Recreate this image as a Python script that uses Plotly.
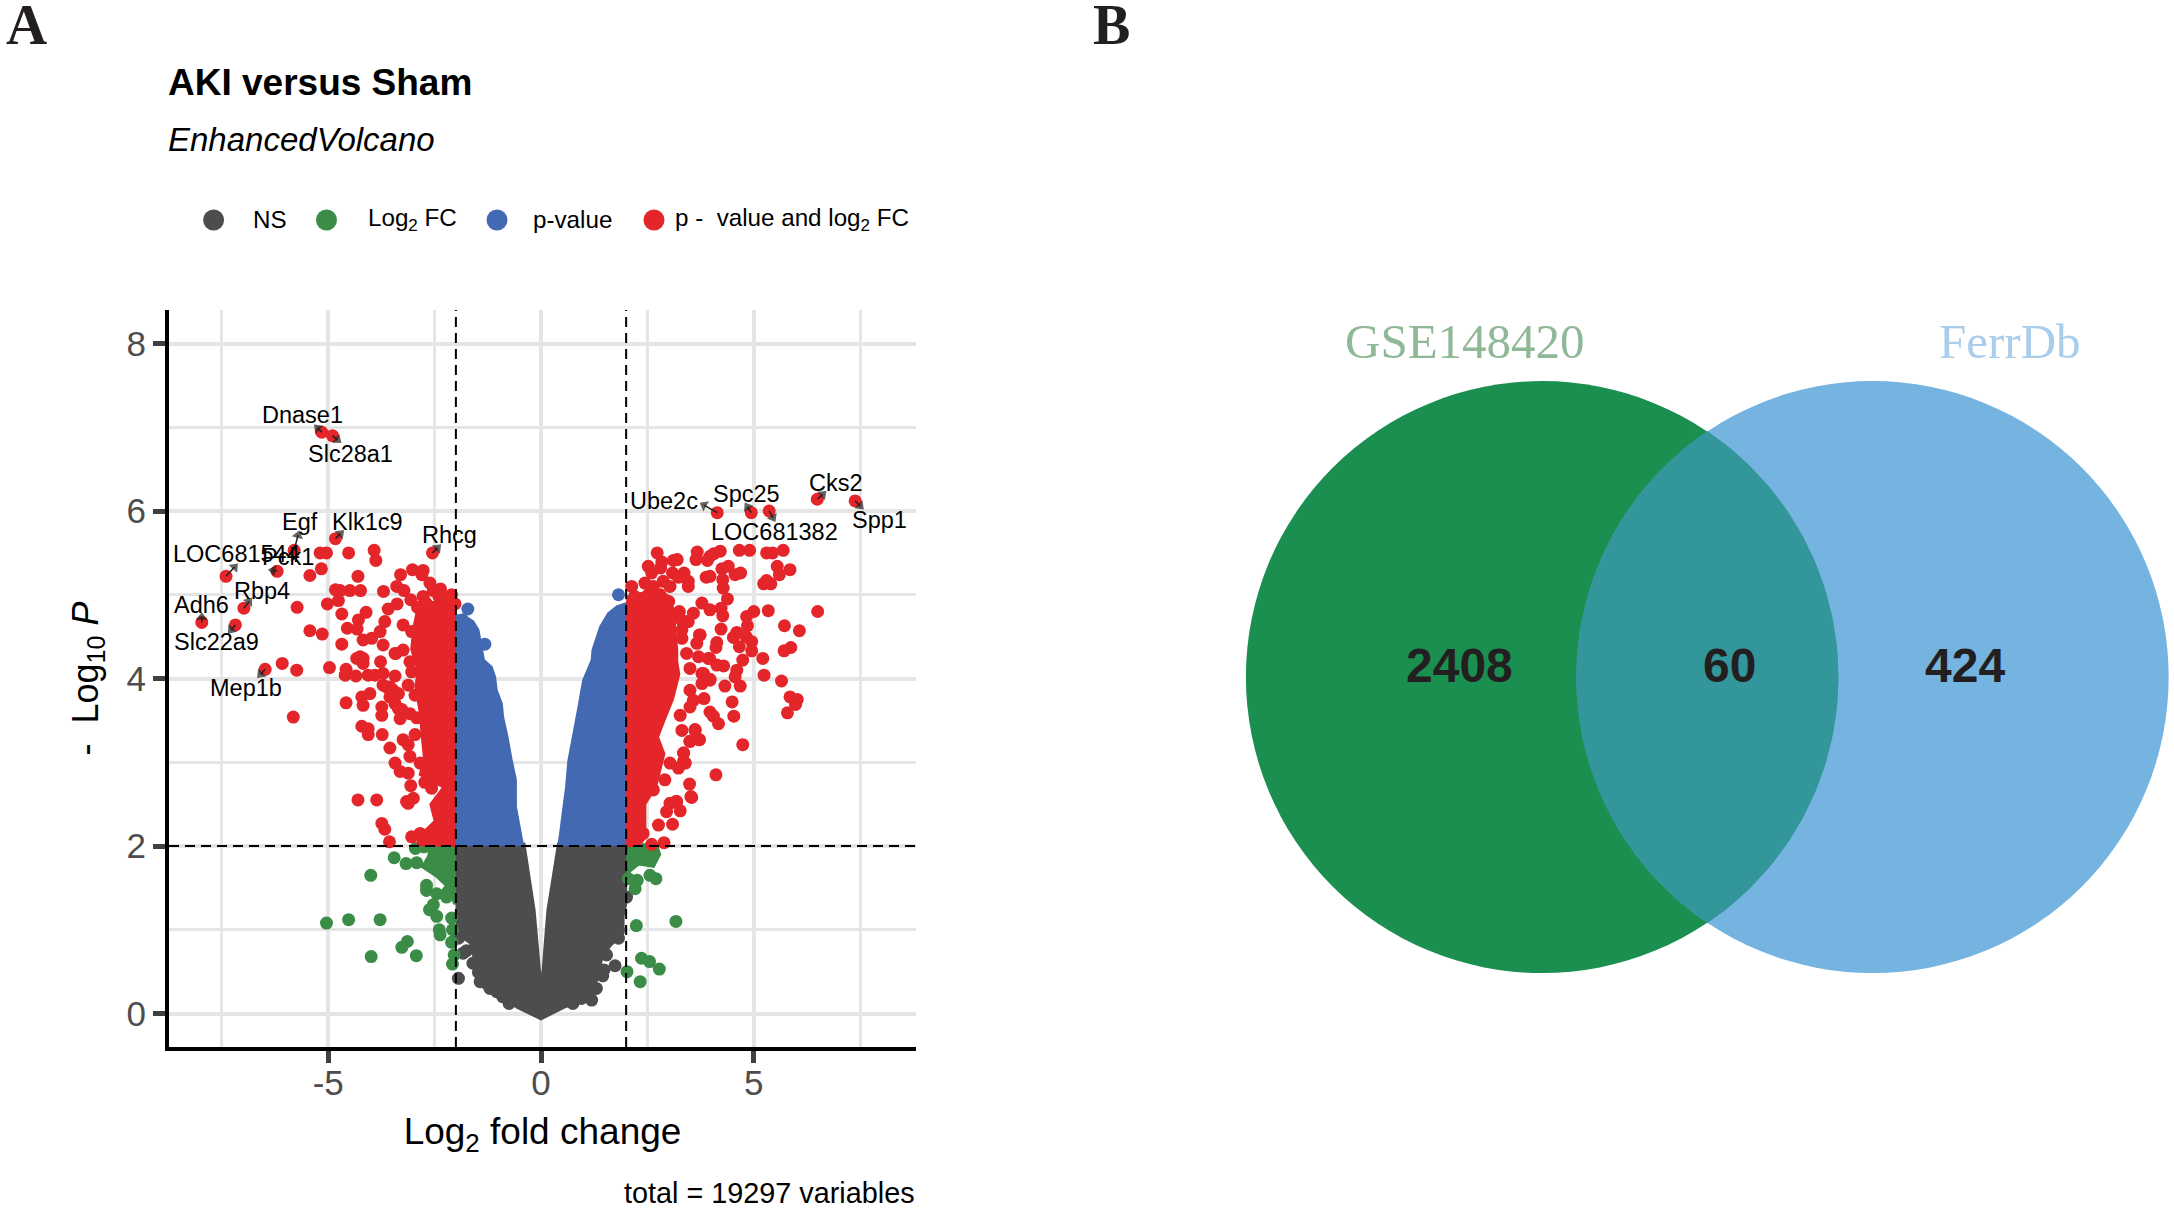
import numpy as np
import plotly.graph_objects as go

W, H = 2174, 1209

# gene labels on the volcano
gene_names = ["Dnase1", "Slc28a1", "Egf", "Klk1c9", "Rhcg", "LOC681544", "Pck1", "Rbp4", "Adh6", "Slc22a9", "Mep1b",
              "Ube2c", "Spc25", "LOC681382", "Cks2", "Spp1"]
gene_x = [-5.15, -4.90, -5.80, -4.83, -2.55, -7.40, -6.20, -6.98, -7.97, -7.18, -6.48,
          4.14, 4.94, 5.36, 6.49, 7.38]
gene_y = [6.94, 6.90, 5.53, 5.67, 5.50, 5.22, 5.28, 4.84, 4.67, 4.64, 4.11,
          5.98, 5.98, 6.00, 6.14, 6.12]
label_x = [-5.61, -4.47, -5.66, -4.07, -2.14, -7.15, -5.95, -6.56, -7.97, -7.62, -6.92,
           2.89, 4.83, 5.48, 6.93, 7.95]
label_y = [7.15, 6.68, 5.87, 5.87, 5.71, 5.49, 5.45, 5.05, 4.88, 4.43, 3.89,
           6.12, 6.20, 5.75, 6.34, 5.89]
# where each connector's head sits, pulled back a little from its tip
tip_x = [-5.25, -4.78, -5.71, -4.71, -2.43, -7.20, -6.30, -6.86, -7.97, -7.28, -6.59,
         3.83, 4.85, 5.45, 6.62, 7.50]
tip_y = [6.99, 6.85, 5.71, 5.73, 5.56, 5.33, 5.29, 4.92, 4.73, 4.58, 4.05,
         6.07, 6.05, 5.92, 6.20, 6.06]

# red points, left side
red_left_x = [-6.08, -5.74, -4.97, -5.73, -5.43, -5.14, -4.68, -5.82, -5.43, -5.16, -5.19, -5.04, -4.52, -3.92, -3.88,
              -4.30, -4.83, -4.72, -4.49, -4.24, -5.02, -4.76, -4.68, -4.11, -4.29, -4.55, -4.32, -3.70, -3.30, -3.39,
              -3.22, -3.02, -2.77, -2.80, -2.61, -2.36, -2.53, -3.06, -2.77, -3.38, -3.59, -3.67, -3.78, -4.18, -3.98,
              -3.71, -3.41, -4.25, -4.18, -3.77, -4.60, -4.35, -4.06, -3.90, -3.71, -3.43, -3.55, -3.71, -4.58, -4.21,
              -4.02, -4.18, -3.74, -3.35, -3.63, -3.47, -3.55, -3.35, -3.74, -3.43, -3.27, -3.31, -4.33, -4.18, -4.58,
              -4.21, -4.06, -4.06, -3.73, -3.24, -3.12, -3.55, -3.08, -3.43, -3.31, -3.12, -3.06, -2.73, -2.57, -4.30,
              -3.86, -3.12, -3.00, -3.74, -3.67, -3.56, -3.04, -2.84,
              -3.24, -3.04, -3.43, -3.24, -3.08, -3.04, -3.12, -2.96, -3.08, -2.92, -2.96, -2.84, -3.16,
              -2.02, -2.20, -2.40, -2.70, -2.90, -2.10]
red_left_y = [4.18, 4.10, 4.13, 4.85, 4.57, 4.53, 4.41, 3.54, 5.23, 5.31, 5.50, 5.50, 5.50, 5.53, 5.41,
              5.22, 5.06, 5.05, 5.05, 5.05, 4.89, 4.93, 4.77, 4.79, 4.70, 4.60, 4.59, 5.04, 5.24, 5.10,
              5.05, 5.30, 5.29, 5.24, 5.14, 5.07, 5.05, 4.94, 4.98, 4.89, 4.83, 4.68, 4.56, 4.46, 4.48,
              4.40, 4.30, 4.26, 4.24, 4.20, 4.04, 4.03, 4.04, 4.04, 4.06, 4.03, 3.90, 3.92, 3.71, 3.78,
              3.82, 3.68, 3.56, 3.64, 3.90, 3.86, 3.78, 3.82, 3.66, 3.70, 3.63, 3.52, 4.24, 4.18, 4.11,
              3.43, 3.40, 3.33, 3.33, 3.27, 3.21, 3.17, 3.07, 2.99, 2.89, 2.87, 2.72, 2.76, 2.69, 2.55,
              2.55, 2.51, 2.57, 2.27, 2.20, 2.05, 2.11, 2.15,
              4.64, 4.56, 4.30, 4.34, 4.20, 4.08, 3.92, 3.80, 3.58, 3.53, 3.33, 2.99, 2.53,
              4.89, 4.95, 4.98, 4.90, 4.85, 5.00]

# red points, right side
red_right_x = [2.73, 2.84, 3.11, 3.20, 3.67, 3.64, 3.97, 3.91, 4.06, 4.21, 4.66, 4.90, 5.30, 5.44, 5.69,
               2.52, 2.60, 2.81, 3.09, 3.36, 3.23, 3.88, 3.97, 4.25, 4.40, 4.27, 4.56, 4.69, 5.55, 5.85,
               5.60, 5.23, 5.40, 5.30, 2.13, 2.44, 2.64, 2.87, 3.03, 3.46, 3.46, 4.28, 4.38, 2.40, 2.91,
               3.78, 3.97, 4.23, 4.27, 5.00, 4.83, 5.34, 6.50, 5.72, 6.07, 4.23, 3.72, 4.85, 4.60, 4.52,
               4.82, 4.95, 4.66, 4.95, 4.13, 4.11, 5.87, 5.71, 4.74, 5.21, 4.60, 4.56, 5.24, 5.65, 4.29,
               3.96, 4.32, 4.68, 5.85, 6.02, 5.98, 5.79, 4.49, 4.53, 4.17, 3.83, 3.97, 4.74, 3.62, 3.50,
               3.72, 3.97, 3.78, 4.11, 3.35, 3.35, 3.49, 3.54, 3.19, 3.03, 3.52, 3.17, 2.95, 3.27, 2.76,
               3.09, 2.89, 2.60,
               3.58, 3.46, 3.74, 3.66, 3.31, 3.31, 3.11, 3.42, 3.70, 3.50, 3.82, 3.97, 3.78, 3.50, 3.58,
               3.50, 3.27, 3.31, 3.50, 3.62, 3.72, 3.35, 3.39, 3.23, 3.03, 2.91, 2.64, 3.93, 4.13, 4.05, 2.40,
               2.20, 2.55, 2.80, 3.00, 3.25, 3.30]
red_right_y = [5.50, 5.39, 5.41, 5.42, 5.51, 5.42, 5.46, 5.41, 5.49, 5.52, 5.53, 5.53, 5.50, 5.50, 5.53,
               5.34, 5.26, 5.32, 5.26, 5.26, 5.21, 5.21, 5.22, 5.31, 5.34, 5.18, 5.24, 5.26, 5.34, 5.30,
               5.24, 5.13, 5.13, 5.17, 5.10, 5.14, 5.10, 5.16, 5.10, 5.10, 5.16, 5.08, 4.95, 4.96, 4.94,
               4.90, 4.82, 4.84, 4.75, 4.80, 4.74, 4.81, 4.80, 4.63, 4.57, 4.59, 4.52, 4.63, 4.55, 4.49,
               4.50, 4.44, 4.38, 4.33, 4.43, 4.37, 4.37, 4.33, 4.22, 4.24, 4.10, 4.02, 4.04, 3.97, 4.15,
               4.24, 3.91, 3.91, 3.78, 3.75, 3.69, 3.59, 3.72, 3.55, 3.46, 3.76, 3.60, 3.21, 3.39, 3.25,
               3.27, 3.98, 4.06, 2.85, 3.11, 3.01, 2.74, 2.58, 2.53, 2.51, 2.59, 2.53, 2.41, 2.42, 2.25,
               2.26, 2.04, 2.02,
               4.78, 4.68, 4.52, 4.42, 4.48, 4.58, 4.74, 4.30, 4.26, 4.12, 4.06, 3.99, 3.94, 3.86, 3.74,
               3.66, 3.56, 3.38, 3.25, 3.38, 3.27, 3.11, 2.99, 2.93, 2.99, 2.79, 2.67, 4.24, 4.16, 3.55, 2.15,
               4.98, 5.02, 5.00, 4.92, 4.80, 4.70]

# outlines of the areas where the red dots merge into a solid mass
red_mass_left_x = [-2.00, -2.50, -2.90, -3.00, -3.05, -2.90, -2.95, -2.85, -2.80, -2.75, -2.85, -2.30, -2.60, -2.50,
                   -2.90, -2.90, -2.00]
red_mass_left_y = [4.95, 4.92, 4.85, 4.60, 4.35, 4.10, 3.90, 3.60, 3.30, 3.05, 2.85, 2.70, 2.50, 2.30,
                   2.10, 2.01, 2.00]
red_mass_right_x = [2.00, 2.30, 2.70, 3.00, 3.15, 3.15, 3.20, 3.20, 3.25, 3.10, 2.90, 2.75, 2.90, 2.80, 2.70, 2.45,
                    2.45, 2.45, 2.30, 2.00]
red_mass_right_y = [4.98, 5.00, 5.00, 4.95, 4.80, 4.60, 4.35, 4.20, 4.05, 3.75, 3.50, 3.30, 3.10, 2.90, 2.70, 2.50,
                    2.25, 2.10, 2.00, 2.00]

# blue wedges (p-value only)
blue_mass_left_x = [-2.00, -2.00, -1.83, -1.59, -1.47, -1.34, -1.16, -1.08, -1.04, -0.92, -0.89, -0.79, -0.69, -0.59,
                    -0.59, -0.49, -0.42]
blue_mass_left_y = [2.00, 4.75, 4.76, 4.68, 4.58, 4.22, 4.14, 4.02, 3.86, 3.70, 3.54, 3.31, 3.03, 2.79,
                    2.47, 2.19, 2.00]
blue_mass_right_x = [2.00, 2.00, 1.78, 1.58, 1.39, 1.31, 1.21, 1.19, 0.99, 0.88, 0.80, 0.72, 0.64, 0.59, 0.51, 0.41]
blue_mass_right_y = [2.00, 4.90, 4.86, 4.78, 4.62, 4.50, 4.34, 4.22, 3.98, 3.66, 3.43, 3.19, 3.01, 2.71, 2.39, 2.00]
blue_x = [-1.72, -1.32, -1.85, 1.82]
blue_y = [4.83, 4.41, 4.70, 5.00]

# green points and masses (log2 FC only)
green_x = [-3.45, -3.17, -2.92, -4.00, -2.69, -2.69, -2.45, -2.22, -2.18, -2.53, -2.62, -2.45, -5.04, -4.52, -3.78,
           -2.39, -2.37, -2.10, -2.08, -2.10, -3.14, -3.27, -2.93, -3.99, -2.04, -2.08, -2.95, -2.75,
           2.56, 2.70, 2.26, 2.21, 2.05, 2.24, 3.17, 2.36, 2.55, 2.78, 2.02, 2.33]
green_y = [1.86, 1.79, 1.80, 1.65, 1.47, 1.53, 1.43, 1.39, 1.46, 1.30, 1.24, 1.16, 1.08, 1.12, 1.12,
           1.00, 0.94, 1.14, 1.00, 0.85, 0.86, 0.79, 0.69, 0.68, 0.70, 0.59, 1.97, 1.99,
           1.65, 1.61, 1.59, 1.49, 1.61, 1.05, 1.10, 0.66, 0.62, 0.53, 0.50, 0.38]
green_mass_left_x = [-2.00, -2.60, -2.65, -2.80, -2.45, -2.20, -2.04, -2.00]
green_mass_left_y = [2.02, 2.02, 1.88, 1.75, 1.63, 1.51, 1.31, 1.31]
green_mass_right_x = [2.00, 2.72, 2.80, 2.65, 2.30, 2.10, 2.00]
green_mass_right_y = [2.02, 2.02, 1.90, 1.75, 1.78, 1.70, 1.62]

# grey mass (NS)
ns_mass_x = [-2.00, -0.39, -0.15, -0.04, 0.00, 0.04, 0.15, 0.40, 2.00, 2.00, 1.94, 1.94, 1.62, 1.43, 1.30, 1.22,
             0.55, 0.00, -0.57, -1.12, -1.55, -1.67, -1.98, -2.00]
ns_mass_y = [2.03, 2.03, 1.23, 0.53, 0.37, 0.53, 1.23, 2.03, 2.03, 1.30, 1.16, 0.96, 0.80, 0.64, 0.34, 0.19,
             0.07, -0.07, 0.07, 0.28, 0.60, 0.84, 0.95, 2.03]
ns_x = [-1.94, -1.47, -1.43, -1.28, -1.04, -1.83, -1.94, 2.01, 1.82, 1.54, 1.74, 1.48, 1.82,
        -0.75, -0.90, 0.75, 0.95, 1.19, 1.30, 1.45, -1.20, -1.35, -1.60, -1.75]
ns_y = [0.42, 0.49, 0.38, 0.36, 0.26, 0.72, 0.90, 1.39, 0.90, 0.70, 0.57, 0.52, 1.00,
        0.12, 0.20, 0.12, 0.18, 0.16, 0.30, 0.45, 0.30, 0.45, 0.60, 0.75]

# legend
legend_names = ["NS", "Log<sub>2</sub> FC", "p-value", "p -  value and log<sub>2</sub> FC"]
legend_colors = ["#4D4D4F", "#3A8C46", "#4269B2", "#E4252A"]

# axis ticks
x_ticks = [-5, 0, 5]
x_tick_text = ["-5", "0", "5"]
y_ticks = [0, 2, 4, 6, 8]
cutoff_fc = 2
cutoff_p = 2

# venn
venn_sets = ["GSE148420", "FerrDb"]
venn_counts = [2408, 60, 424]
venn_center_x = [0, 1.117]
venn_radius = 1


def px(x):
    return x / W


def py(y):
    return 1 - y / H


GRAY, GREEN, BLUE, RED = legend_colors[0], legend_colors[1], legend_colors[2], legend_colors[3]
fig = go.Figure()


def add_mass(xs, ys, color):
    fig.add_trace(go.Scatter(x=xs, y=ys, mode="lines", fill="toself", fillcolor=color,
                             line=dict(color=color, width=2), hoverinfo="skip", showlegend=False))


def add_dots(xs, ys, color):
    fig.add_trace(go.Scatter(x=xs, y=ys, mode="markers", marker=dict(color=color, size=13, line_width=0),
                             showlegend=False))


add_mass(ns_mass_x, ns_mass_y, GRAY)
add_dots(ns_x, ns_y, GRAY)
add_mass(green_mass_left_x, green_mass_left_y, GREEN)
add_mass(green_mass_right_x, green_mass_right_y, GREEN)
add_dots(green_x, green_y, GREEN)
add_mass(blue_mass_left_x, blue_mass_left_y, BLUE)
add_mass(blue_mass_right_x, blue_mass_right_y, BLUE)
add_dots(blue_x, blue_y, BLUE)
add_mass(red_mass_left_x, red_mass_left_y, RED)
add_mass(red_mass_right_x, red_mass_right_y, RED)
add_dots(red_left_x, red_left_y, RED)
add_dots(red_right_x, red_right_y, RED)
add_dots(gene_x, gene_y, RED)

# short repel connectors: a dark triangle turned towards the label
for gx, gy, tx, ty in zip(gene_x, gene_y, tip_x, tip_y):
    fig.add_trace(go.Scatter(x=[gx, tx], y=[gy, ty], mode="lines+markers", line=dict(color="#231F20", width=1.5),
                             marker=dict(symbol="triangle-up", angleref="previous", size=[0, 10], color="#231F20",
                                         line_width=0),
                             showlegend=False, hoverinfo="skip"))

# legend keys sit on their own axes, a thin band across the page
key_x = [213.6, 326.5, 497, 654]
fig.add_trace(go.Scatter(x=key_x, y=[0, 0, 0, 0], xaxis="x3", yaxis="y3", mode="markers",
                         marker=dict(color=legend_colors, size=21, line_width=0), showlegend=False))

# venn: two discs are shapes, the overlap is a filled lens on the same axes
half = np.arccos((venn_center_x[1] - venn_center_x[0]) / (2 * venn_radius))
arc = np.linspace(-half, half, 80)
lens_x = np.concatenate([venn_center_x[0] + venn_radius * np.cos(arc),
                         venn_center_x[1] - venn_radius * np.cos(arc[::-1])])
lens_y = np.concatenate([venn_radius * np.sin(arc), venn_radius * np.sin(arc[::-1])])
fig.add_trace(go.Scatter(x=lens_x, y=lens_y, xaxis="x2", yaxis="y2", mode="lines", fill="toself",
                         fillcolor="#32969A", line=dict(color="#32969A", width=1), showlegend=False,
                         hoverinfo="skip"))

annotations = []


def note(text, x, y, size, color="#000000", family="Liberation Sans", xanchor="left", xref="paper", yref="paper"):
    annotations.append(dict(text=text, x=x, y=y, xref=xref, yref=yref, showarrow=False, xanchor=xanchor,
                            yanchor="middle", font=dict(family=family, size=size, color=color)))


note("<b>A</b>", px(4), py(25), 57, "#231F20", "Liberation Serif")
note("<b>B</b>", px(1091), py(25), 56, "#231F20", "Liberation Serif")
note("<b>AKI versus Sham</b>", px(165.5), py(83), 37)
note("<i>EnhancedVolcano</i>", px(165.5), py(140), 33)
legend_text_x = [250.5, 365.5, 530.5, 673]
for name, tx in zip(legend_names, legend_text_x):
    note(name, px(tx), py(219), 24.2)
note("total = 19297 variables", px(917), py(1193), 28.8, xanchor="right")

for name, lx, ly in zip(gene_names, label_x, label_y):
    note(name, lx, ly, 23.5, xanchor="center", xref="x", yref="y")

# venn numbers and set names
venn_number_x = [-0.28, 0.634, 1.428]
for count, vx in zip(venn_counts, venn_number_x):
    note("<b>%d</b>" % count, vx, 0.04, 48, "#231F20", xanchor="center", xref="x2", yref="y2")
note(venn_sets[0], -0.26, 1.135, 49, "#8FB996", "Liberation Serif", xanchor="center", xref="x2", yref="y2")
note(venn_sets[1], 1.58, 1.135, 49, "#A9CDEB", "Liberation Serif", xanchor="center", xref="x2", yref="y2")

shapes = [
    dict(type="circle", xref="x2", yref="y2", layer="below", line_width=0, fillcolor="#1A8F50",
         x0=venn_center_x[0] - venn_radius, x1=venn_center_x[0] + venn_radius, y0=-venn_radius, y1=venn_radius),
    dict(type="circle", xref="x2", yref="y2", layer="below", line_width=0, fillcolor="#75B3E0",
         x0=venn_center_x[1] - venn_radius, x1=venn_center_x[1] + venn_radius, y0=-venn_radius, y1=venn_radius),
]
dash_line = dict(color="#000000", width=2, dash="10px,6px")
for c in (-cutoff_fc, cutoff_fc):
    shapes.append(dict(type="line", xref="x", yref="paper", x0=c, x1=c, y0=py(1047), y1=py(310), line=dash_line))
shapes.append(dict(type="line", xref="paper", yref="y", x0=px(169), x1=px(916), y0=cutoff_p, y1=cutoff_p,
                   line=dash_line))

axis_font = dict(family="Liberation Sans", size=35, color="#4D4D4D")
fig.update_layout(
    width=W, height=H, autosize=False, margin=dict(l=0, r=0, t=0, b=0),
    paper_bgcolor="white", plot_bgcolor="white", showlegend=False,
    annotations=annotations, shapes=shapes,
    xaxis=dict(domain=[px(169), px(916)], range=[-8.74, 8.81], tickmode="array", tickvals=x_ticks,
               ticktext=x_tick_text, ticks="outside", ticklen=12, tickwidth=5, tickcolor="#404040",
               ticklabelstandoff=-10,
               tickfont=axis_font, showline=True, linecolor="#000000", linewidth=4, zeroline=False,
               showgrid=True, gridcolor="#E5E5E5", gridwidth=4,
               minor=dict(tickmode="linear", tick0=0, dtick=2.5, showgrid=True, gridcolor="#E5E5E5", gridwidth=2.5,
                          ticks=""),
               title=dict(text="Log<sub>2</sub> fold change", standoff=18,
                          font=dict(family="Liberation Sans", size=37, color="#000000"))),
    yaxis=dict(domain=[py(1047), py(310)], range=[-0.4, 8.4], tickmode="array", tickvals=y_ticks,
               ticks="outside", ticklen=12, tickwidth=5, tickcolor="#404040",
               tickfont=axis_font, showline=True, linecolor="#000000", linewidth=4, zeroline=False,
               showgrid=True, gridcolor="#E5E5E5", gridwidth=4,
               minor=dict(tickmode="linear", tick0=0, dtick=1, showgrid=True, gridcolor="#E5E5E5", gridwidth=2.5,
                          ticks=""),
               title=dict(text="-  Log<sub>10</sub> <i>P</i>", standoff=18,
                          font=dict(family="Liberation Sans", size=36, color="#000000"))),
    xaxis2=dict(domain=[px(1200), px(2174)], range=[-1.155, 2.135], visible=False),
    yaxis2=dict(domain=[py(995), py(300)], range=[-1.074, 1.274], visible=False, anchor="x2"),
    xaxis3=dict(domain=[0, 1], range=[0, W], visible=False),
    yaxis3=dict(domain=[py(245), py(195)], range=[-1, 1], visible=False, anchor="x3"),
)

# drop the browser's default page margin so the page matches the figure size
fig.write_html("out.html", config={"displayModeBar": False}, post_script="document.body.style.margin='0';")
